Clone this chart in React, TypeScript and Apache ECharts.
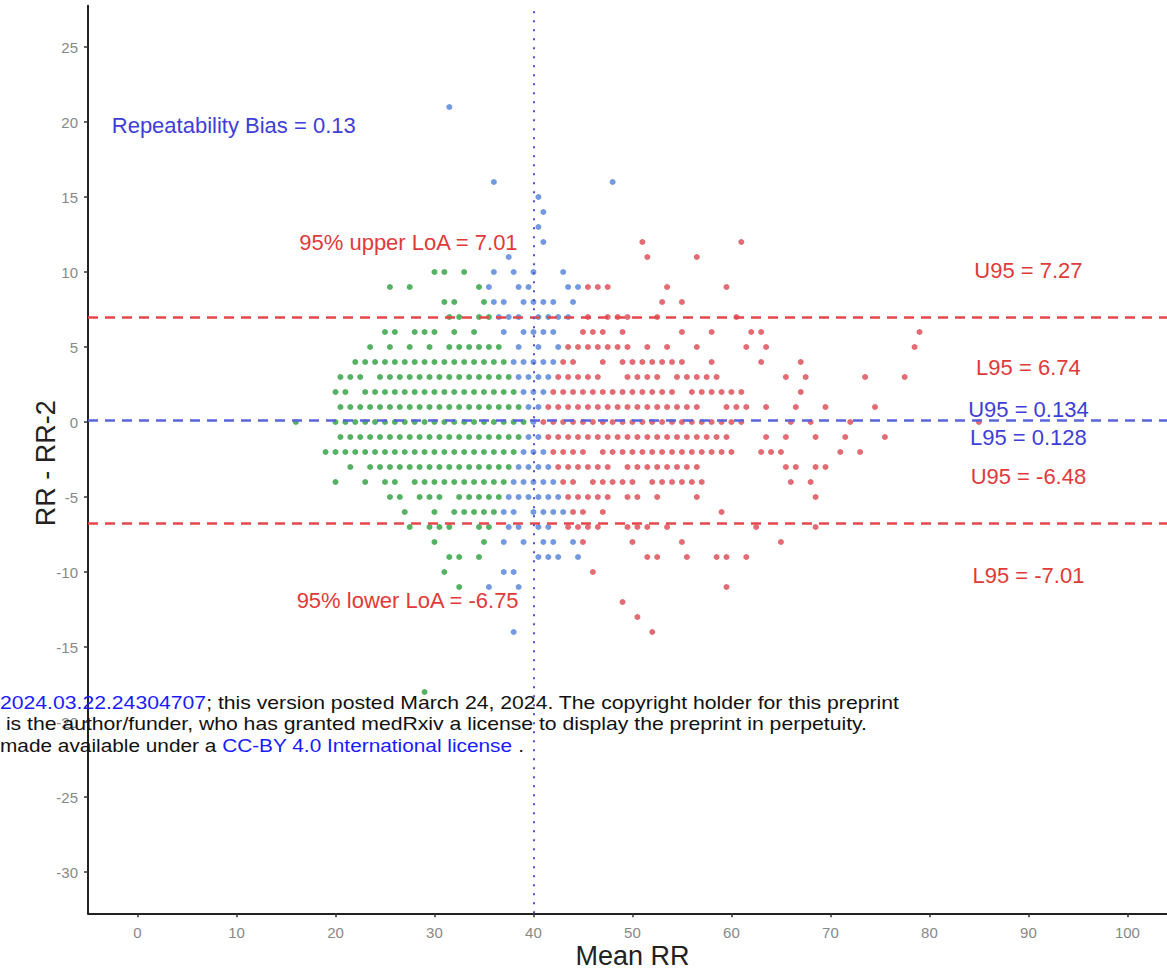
import React, { useEffect, useRef } from "react";
import * as echarts from "echarts";

// ---- axis ticks ----
const xTicks = [0, 10, 20, 30, 40, 50, 60, 70, 80, 90, 100];
const yTicks = [-30, -25, -20, -15, -10, -5, 0, 5, 10, 15, 20, 25];

// ---- reference lines ----
const biasValue = 0.13;
const upperLoA = 7.01;
const lowerLoA = -6.75;
const refMeanRR = 40;

// ---- points: [difference (RR - RR-2), list of mean RR values] ----
const greenRows: [number, number[]][] = [
  [10, [30, 31, 33]],
  [9, [25.5, 27.5, 34.5]],
  [8, [31, 32, 35]],
  [7, [31.5, 32.5, 34.5, 35.5]],
  [6, [25, 26, 28, 29, 30, 32, 34]],
  [5, [23.5, 25.5, 27.5, 29.5, 31.5, 32.5, 33.5, 34.5, 35.5, 36.5]],
  [4, [22, 23, 24, 25, 26, 27, 28, 29, 30, 31, 32, 33, 34, 35, 36, 37]],
  [3, [20.5, 21.5, 22.5, 24.5, 25.5, 26.5, 27.5, 28.5, 29.5, 30.5, 31.5, 32.5, 33.5, 34.5, 35.5, 36.5, 37.5]],
  [2, [20, 21, 23, 24, 25, 26, 27, 28, 29, 30, 31, 32, 33, 34, 35, 36, 37, 38]],
  [1, [20.5, 21.5, 22.5, 23.5, 24.5, 25.5, 26.5, 27.5, 28.5, 29.5, 30.5, 31.5, 32.5, 33.5, 34.5, 35.5, 36.5, 37.5, 38.5]],
  [0, [16, 20, 21, 22, 23, 24, 25, 26, 27, 28, 29, 30, 31, 32, 33, 34, 35, 36, 37, 38, 39]],
  [-1, [20.5, 21.5, 22.5, 23.5, 24.5, 25.5, 26.5, 27.5, 28.5, 29.5, 30.5, 31.5, 32.5, 33.5, 34.5, 35.5, 36.5, 37.5, 38.5]],
  [-2, [19, 20, 21, 22, 23, 24, 25, 26, 27, 28, 29, 30, 31, 32, 33, 34, 35, 36, 37, 38]],
  [-3, [21.5, 23.5, 24.5, 25.5, 26.5, 27.5, 28.5, 29.5, 30.5, 31.5, 32.5, 33.5, 34.5, 35.5, 36.5, 37.5]],
  [-4, [20, 23, 25, 26, 28, 29, 30, 31, 32, 33, 34, 35, 36, 37]],
  [-5, [25.5, 26.5, 28.5, 29.5, 30.5, 32.5, 33.5, 34.5, 35.5, 36.5]],
  [-6, [27, 30, 32, 33, 34, 35, 36]],
  [-7, [27.5, 29.5, 30.5, 31.5, 34.5, 35.5]],
  [-8, [30, 35]],
  [-9, [31.5, 32.5, 34.5]],
  [-10, [31]],
  [-11, [32.5]],
  [-18, [29]],
];

const blueRows: [number, number[]][] = [
  [21, [31.5]],
  [16, [36, 48]],
  [15, [40.5]],
  [14, [41]],
  [13, [40.5]],
  [12, [41]],
  [11, [37.5]],
  [10, [36, 38, 40, 43]],
  [9, [35.5, 38.5, 39.5, 43.5, 44.5]],
  [8, [36, 37, 39, 40, 41, 42, 44]],
  [7, [36.5, 37.5, 38.5, 40.5, 41.5, 42.5, 43.5]],
  [6, [37, 39, 40, 41, 42]],
  [5, [38.5, 40.5, 42.5]],
  [4, [38, 39, 40, 41, 42]],
  [3, [38.5, 39.5, 40.5, 41.5]],
  [2, [39, 40, 41]],
  [1, [39.5, 40.5]],
  [0, [40]],
  [-1, [39.5, 40.5]],
  [-2, [39, 40, 41]],
  [-3, [38.5, 39.5, 40.5, 41.5]],
  [-4, [38, 39, 40, 41, 42]],
  [-5, [37.5, 38.5, 39.5, 40.5, 41.5, 42.5]],
  [-6, [37, 38, 40, 41, 42, 43]],
  [-7, [37.5, 38.5, 40.5, 41.5]],
  [-8, [37, 39, 41, 42, 44]],
  [-9, [40.5, 41.5, 42.5, 44.5]],
  [-10, [37, 38]],
  [-11, [35.5, 38.5]],
  [-14, [38]],
];

const redRows: [number, number[]][] = [
  [12, [51, 61]],
  [11, [51.5, 56.5]],
  [9, [45.5, 46.5, 47.5, 53.5, 59.5]],
  [8, [53, 55]],
  [7, [45.5, 47.5, 48.5, 49.5, 52.5, 60.5]],
  [6, [45, 46, 47, 49, 55, 58, 62, 63, 79]],
  [5, [43.5, 44.5, 45.5, 46.5, 47.5, 48.5, 49.5, 51.5, 53.5, 56.5, 61.5, 63.5, 78.5]],
  [4, [43, 44, 47, 49, 50, 51, 52, 53, 54, 55, 58, 63, 67]],
  [3, [42.5, 43.5, 44.5, 45.5, 46.5, 49.5, 50.5, 51.5, 52.5, 54.5, 55.5, 56.5, 57.5, 58.5, 65.5, 67.5, 73.5, 77.5]],
  [2, [42, 43, 44, 45, 46, 47, 48, 49, 50, 51, 52, 53, 54, 56, 57, 58, 59, 60, 61, 67]],
  [1, [41.5, 42.5, 43.5, 44.5, 45.5, 46.5, 47.5, 48.5, 49.5, 50.5, 51.5, 52.5, 53.5, 54.5, 55.5, 56.5, 59.5, 60.5, 61.5, 63.5, 66.5, 69.5, 74.5]],
  [0, [41, 42, 43, 44, 45, 46, 47, 48, 49, 50, 51, 52, 53, 54, 55, 56, 57, 58, 59, 60, 61, 66, 68, 72, 85]],
  [-1, [41.5, 42.5, 43.5, 44.5, 45.5, 46.5, 47.5, 48.5, 49.5, 50.5, 51.5, 52.5, 53.5, 54.5, 55.5, 56.5, 57.5, 58.5, 59.5, 63.5, 65.5, 68.5, 71.5, 75.5]],
  [-2, [42, 43, 44, 45, 47, 48, 49, 50, 51, 52, 53, 54, 55, 56, 57, 58, 59, 60, 63, 64, 65, 71, 73]],
  [-3, [42.5, 43.5, 44.5, 45.5, 46.5, 47.5, 49.5, 50.5, 51.5, 52.5, 53.5, 54.5, 55.5, 56.5, 65.5, 66.5, 68.5, 69.5]],
  [-4, [43, 44, 46, 47, 48, 49, 50, 52, 53, 54, 55, 56, 57, 66, 68]],
  [-5, [43.5, 44.5, 45.5, 46.5, 47.5, 49.5, 50.5, 52.5, 56.5, 68.5]],
  [-6, [44, 45, 47, 59]],
  [-7, [43.5, 44.5, 45.5, 46.5, 49.5, 50.5, 51.5, 53.5, 62.5, 68.5]],
  [-8, [45, 50, 55, 65]],
  [-9, [51.5, 52.5, 55.5, 58.5, 59.5, 61.5]],
  [-10, [46]],
  [-11, [59.5]],
  [-12, [49]],
  [-13, [50.5]],
  [-14, [52]],
];

// ---- text annotations (anchored in data coordinates) ----
const annotTexts = [
  "Repeatability Bias = 0.13",
  "95% upper LoA = 7.01",
  "95% lower LoA = -6.75",
  "U95 = 7.27",
  "L95 = 6.74",
  "U95 = 0.134",
  "L95 = 0.128",
  "U95 = -6.48",
  "L95 = -7.01",
];
const annotX = [-2.6, 38.4, 38.5, 90, 90, 90, 90, 90, 90];
const annotY = [19.8, 11.95, -11.9, 10.1, 3.65, 0.85, -1.05, -3.65, -10.2];
const annotAlign = ["left", "right", "right", "center", "center", "center", "center", "center", "center"];
const annotColor = ["blue", "red", "red", "red", "red", "blue", "blue", "red", "red"];

const xAxisTitle = "Mean RR";
const yAxisTitle = "RR - RR-2";

// ---- overlay text lines (preprint notice) ----
const noticeLines: [string, string, string][] = [
  ["", "2024.03.22.24304707", "; this version posted March 24, 2024. The copyright holder for this preprint"],
  [" is the author/funder, who has granted medRxiv a license to display the preprint in perpetuity.", "", ""],
  ["made available under a ", "CC-BY 4.0 International license", " ."],
];

const FONT = "'Liberation Sans', Arial, Helvetica, sans-serif";
const GREEN = "#2a9f3c";
const BLUE = "#5080d8";
const RED = "#dc4650";
const TXT_RED = "#e03a3a";
const TXT_BLUE = "#3e3ed6";

const toPoints = (rows: [number, number[]][]) =>
  rows.flatMap(([y, xs]) => xs.map((x) => [x, y]));

export default function App() {
  const ref = useRef<HTMLDivElement>(null);

  useEffect(() => {
    const chart = echarts.init(ref.current!, null, { renderer: "svg" });

    const axisLabelStyle = { color: "#888888", fontSize: 15, fontFamily: FONT };

    chart.setOption({
      animation: false,
      backgroundColor: "#ffffff",
      grid: { left: 88, top: 5.75, right: 0, bottom: 63.75, containLabel: false },
      xAxis: {
        type: "value",
        min: -5,
        max: 104,
        splitLine: { show: false },
        axisLine: { show: true, onZero: false, lineStyle: { color: "#222", width: 2 } },
        axisTick: { show: true, customValues: xTicks, length: 4, lineStyle: { color: "#333", width: 1.5 } },
        axisLabel: { ...axisLabelStyle, customValues: xTicks, margin: 12 },
      },
      yAxis: {
        type: "value",
        min: -32.75,
        max: 27.75,
        splitLine: { show: false },
        axisLine: { show: true, onZero: false, lineStyle: { color: "#222", width: 2 } },
        axisTick: { show: true, customValues: yTicks, length: 4, lineStyle: { color: "#333", width: 1.5 } },
        axisLabel: { ...axisLabelStyle, customValues: yTicks, margin: 10 },
      },
      series: [
        {
          type: "scatter",
          name: "green",
          data: toPoints(greenRows),
          symbolSize: 6,
          itemStyle: { color: GREEN },
          silent: true,
          z: 2,
        },
        {
          type: "scatter",
          name: "blue",
          data: toPoints(blueRows),
          symbolSize: 6,
          itemStyle: { color: BLUE },
          silent: true,
          z: 2,
        },
        {
          type: "scatter",
          name: "red",
          data: toPoints(redRows),
          symbolSize: 6,
          itemStyle: { color: RED },
          silent: true,
          z: 2,
        },
        {
          type: "scatter",
          name: "lines",
          data: [],
          z: 5,
          silent: true,
          markLine: {
            silent: true,
            symbol: "none",
            label: { show: false },
            animation: false,
            data: [
              { yAxis: upperLoA, lineStyle: { color: "#e5474d", width: 2.5, type: [10, 7] } },
              { yAxis: lowerLoA, lineStyle: { color: "#e5474d", width: 2.5, type: [10, 7] } },
              { yAxis: biasValue, lineStyle: { color: "#5a64dc", width: 2.5, type: [10, 7] } },
              { xAxis: refMeanRR, lineStyle: { color: "#5050cc", width: 2, type: [2, 7] } },
            ],
          },
        },
      ],
    });

    const toPx = (x: number, y: number) =>
      chart.convertToPixel({ gridIndex: 0 }, [x, y]) as number[];

    const annotations = annotTexts.map((text, i) => {
      const [px, py] = toPx(annotX[i], annotY[i]);
      return {
        type: "text",
        x: px,
        y: py,
        z: 10,
        silent: true,
        style: {
          text,
          fill: annotColor[i] === "red" ? TXT_RED : TXT_BLUE,
          fontSize: 22,
          fontFamily: FONT,
          align: annotAlign[i],
          verticalAlign: "middle",
        },
      };
    });

    const [titleX] = toPx(50, 0);
    const [, titleY] = toPx(0, -2.75);
    const titles = [
      {
        type: "text",
        x: titleX,
        y: 956,
        z: 10,
        silent: true,
        style: {
          text: xAxisTitle,
          fill: "#222",
          fontSize: 27,
          fontFamily: FONT,
          align: "center",
          verticalAlign: "middle",
        },
      },
      {
        type: "text",
        x: 46,
        y: titleY,
        rotation: Math.PI / 2,
        z: 10,
        silent: true,
        style: {
          text: yAxisTitle,
          fill: "#222",
          fontSize: 27,
          fontFamily: FONT,
          align: "center",
          verticalAlign: "middle",
        },
      },
    ];

    const noticeX = [0, 0, 0];
    const noticeY = [702, 723.5, 745];
    const noticeScale = [1.145, 1.145, 1.125];
    const notice = noticeLines.map(([a, link, b], i) => ({
      type: "text",
      x: noticeX[i],
      y: noticeY[i],
      scaleX: noticeScale[i],
      z: 20,
      silent: true,
      style: {
        text: (a ? `{k|${a}}` : "") + (link ? `{l|${link}}` : "") + (b ? `{k|${b}}` : ""),
        fontSize: 18.5,
        fontFamily: FONT,
        align: "left",
        verticalAlign: "middle",
        rich: {
          k: { fill: "#111", fontSize: 18.5, fontFamily: FONT },
          l: { fill: "#1a1aff", fontSize: 18.5, fontFamily: FONT },
        },
      },
    }));

    chart.setOption({ graphic: [...annotations, ...titles, ...notice] });

    return () => chart.dispose();
  }, []);

  return (
    <div
      ref={ref}
      style={{
        position: "fixed",
        left: 0,
        top: 0,
        width: 1167,
        height: 977,
        background: "#fff",
        overflow: "hidden",
      }}
    />
  );
}
